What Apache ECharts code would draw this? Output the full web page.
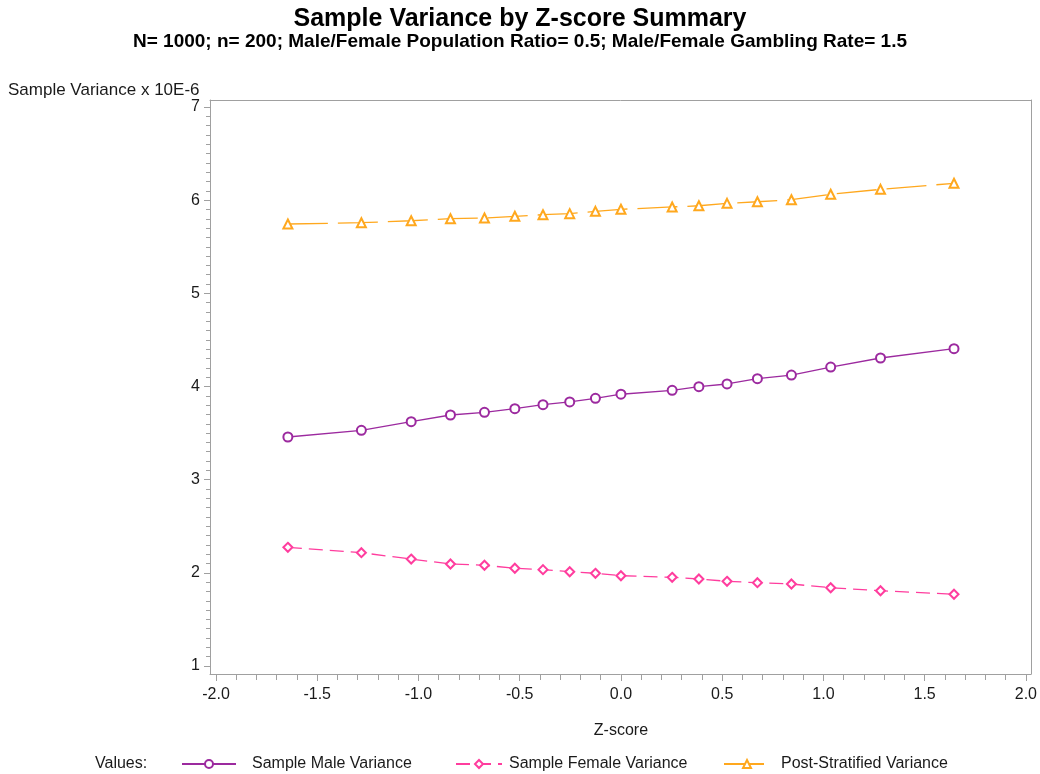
<!DOCTYPE html>
<html>
<head>
<meta charset="utf-8">
<script src="https://cdn.jsdelivr.net/npm/echarts@6/dist/echarts.min.js"></script>
<style>html,body{margin:0;padding:0;background:#fff}#c{width:1040px;height:774px}</style>
</head>
<body>
<div id="c"></div>
<script>
// Z-score positions (normal quantiles)
var zScores = [-1.645, -1.282, -1.036, -0.842, -0.674, -0.524, -0.385, -0.253, -0.126, 0, 0.253, 0.385, 0.524, 0.674, 0.842, 1.036, 1.282, 1.645];
var maleVar = [3.458, 3.530, 3.622, 3.694, 3.723, 3.762, 3.805, 3.834, 3.873, 3.917, 3.959, 3.998, 4.027, 4.084, 4.123, 4.209, 4.306, 4.406];
var femaleVar = [2.274, 2.216, 2.148, 2.095, 2.081, 2.049, 2.034, 2.012, 1.995, 1.969, 1.952, 1.934, 1.909, 1.894, 1.880, 1.840, 1.808, 1.770];
var postVar = [5.744, 5.758, 5.779, 5.801, 5.808, 5.827, 5.844, 5.855, 5.880, 5.902, 5.927, 5.940, 5.966, 5.983, 6.005, 6.063, 6.116, 6.181];
var seriesNames = ['Sample Male Variance', 'Sample Female Variance', 'Post-Stratified Variance'];

function pairs(ys) { return zScores.map(function (x, i) { return [x, ys[i]]; }); }

var FONT = '"Liberation Sans", Arial, sans-serif';
var AX = '#a0a0a0';
var TXT = '#1a1a1a';
var colors = ['#9C2A9F', '#FF3D9E', '#FFA81E'];

function frameAxis(pos) {
  return { type: 'value', gridIndex: 1, min: 0, max: 1, position: pos,
    axisLine: { show: true, onZero: false, lineStyle: { color: AX } },
    axisTick: { show: false }, axisLabel: { show: false }, splitLine: { show: false } };
}

var chart = echarts.init(document.getElementById('c'));
chart.setOption({
  animation: false,
  title: [
    { text: 'Sample Variance by Z-score Summary', left: 'center', top: 2,
      textStyle: { fontFamily: FONT, fontSize: 25, fontWeight: 'bold', color: '#000' } },
    { text: 'N= 1000; n= 200; Male/Female Population Ratio= 0.5; Male/Female Gambling Rate= 1.5', left: 'center', top: 27,
      textStyle: { fontFamily: FONT, fontSize: 19, fontWeight: 'bold', color: '#000' } },
    { text: 'Sample Variance x 10E-6', left: 8, top: 82, padding: 0,
      textStyle: { fontFamily: FONT, fontSize: 17, fontWeight: 'normal', color: TXT } },
    { text: 'Values:', left: 95, top: 756, padding: 0,
      textStyle: { fontFamily: FONT, fontSize: 16, fontWeight: 'normal', color: TXT } }
  ],
  grid: [
    { left: 216, right: 14, top: 107, bottom: 108 },
    { left: 210, right: 9, top: 100, bottom: 100 }
  ],
  xAxis: [
    { type: 'value', gridIndex: 0, min: -2, max: 2, interval: 0.5, position: 'bottom', offset: 8,
      name: 'Z-score', nameLocation: 'middle', nameGap: 49,
      nameTextStyle: { fontFamily: FONT, fontSize: 16, color: TXT },
      axisLine: { show: false, onZero: false },
      axisTick: { show: true, inside: false, length: 7, lineStyle: { color: AX } },
      minorTick: { show: true, splitNumber: 5, length: 6, lineStyle: { color: AX } },
      axisLabel: { fontFamily: FONT, fontSize: 16, color: TXT, margin: 13, formatter: function (v) { return v.toFixed(1); } },
      splitLine: { show: false } },
    frameAxis('bottom'),
    frameAxis('top')
  ],
  yAxis: [
    { type: 'value', gridIndex: 0, min: 1, max: 7, interval: 1, position: 'left', offset: 6,
      axisLine: { show: false, onZero: false },
      axisTick: { show: true, length: 6, lineStyle: { color: AX } },
      minorTick: { show: true, splitNumber: 10, length: 4, lineStyle: { color: AX } },
      axisLabel: { fontFamily: FONT, fontSize: 16, color: TXT, margin: 10 },
      splitLine: { show: false } },
    frameAxis('left'),
    frameAxis('right')
  ],
  legend: [
    { data: [seriesNames[0]], left: 176, top: 751, itemWidth: 54, itemHeight: 10,
      textStyle: { fontFamily: FONT, fontSize: 16, color: TXT, padding: [0, 0, 0, 11] } },
    { data: [seriesNames[1]], left: 450, top: 751, itemWidth: 46, itemHeight: 10,
      textStyle: { fontFamily: FONT, fontSize: 16, color: TXT, padding: [0, 0, 0, 2] } },
    { data: [seriesNames[2]], left: 718, top: 751, itemWidth: 46, itemHeight: 10,
      textStyle: { fontFamily: FONT, fontSize: 16, color: TXT, padding: [0, 0, 0, 6] } }
  ],
  series: [
    { name: seriesNames[0], type: 'line', data: pairs(maleVar), symbol: 'emptyCircle', symbolSize: 9,
      color: colors[0], lineStyle: { width: 1.3, color: colors[0] },
      itemStyle: { color: colors[0], borderColor: colors[0], borderWidth: 1.2 } },
    { name: seriesNames[1], type: 'line', data: pairs(femaleVar), symbol: 'emptyDiamond', symbolSize: 9,
      color: colors[1], lineStyle: { width: 1.3, color: colors[1], type: [14, 7] },
      itemStyle: { color: colors[1], borderColor: colors[1], borderWidth: 1.2 } },
    { name: seriesNames[2], type: 'line', data: pairs(postVar), symbol: 'emptyTriangle', symbolSize: 9,
      color: colors[2], lineStyle: { width: 1.3, color: colors[2], type: [40, 10] },
      itemStyle: { color: colors[2], borderColor: colors[2], borderWidth: 1.2 } }
  ]
});
</script>
</body>
</html>
